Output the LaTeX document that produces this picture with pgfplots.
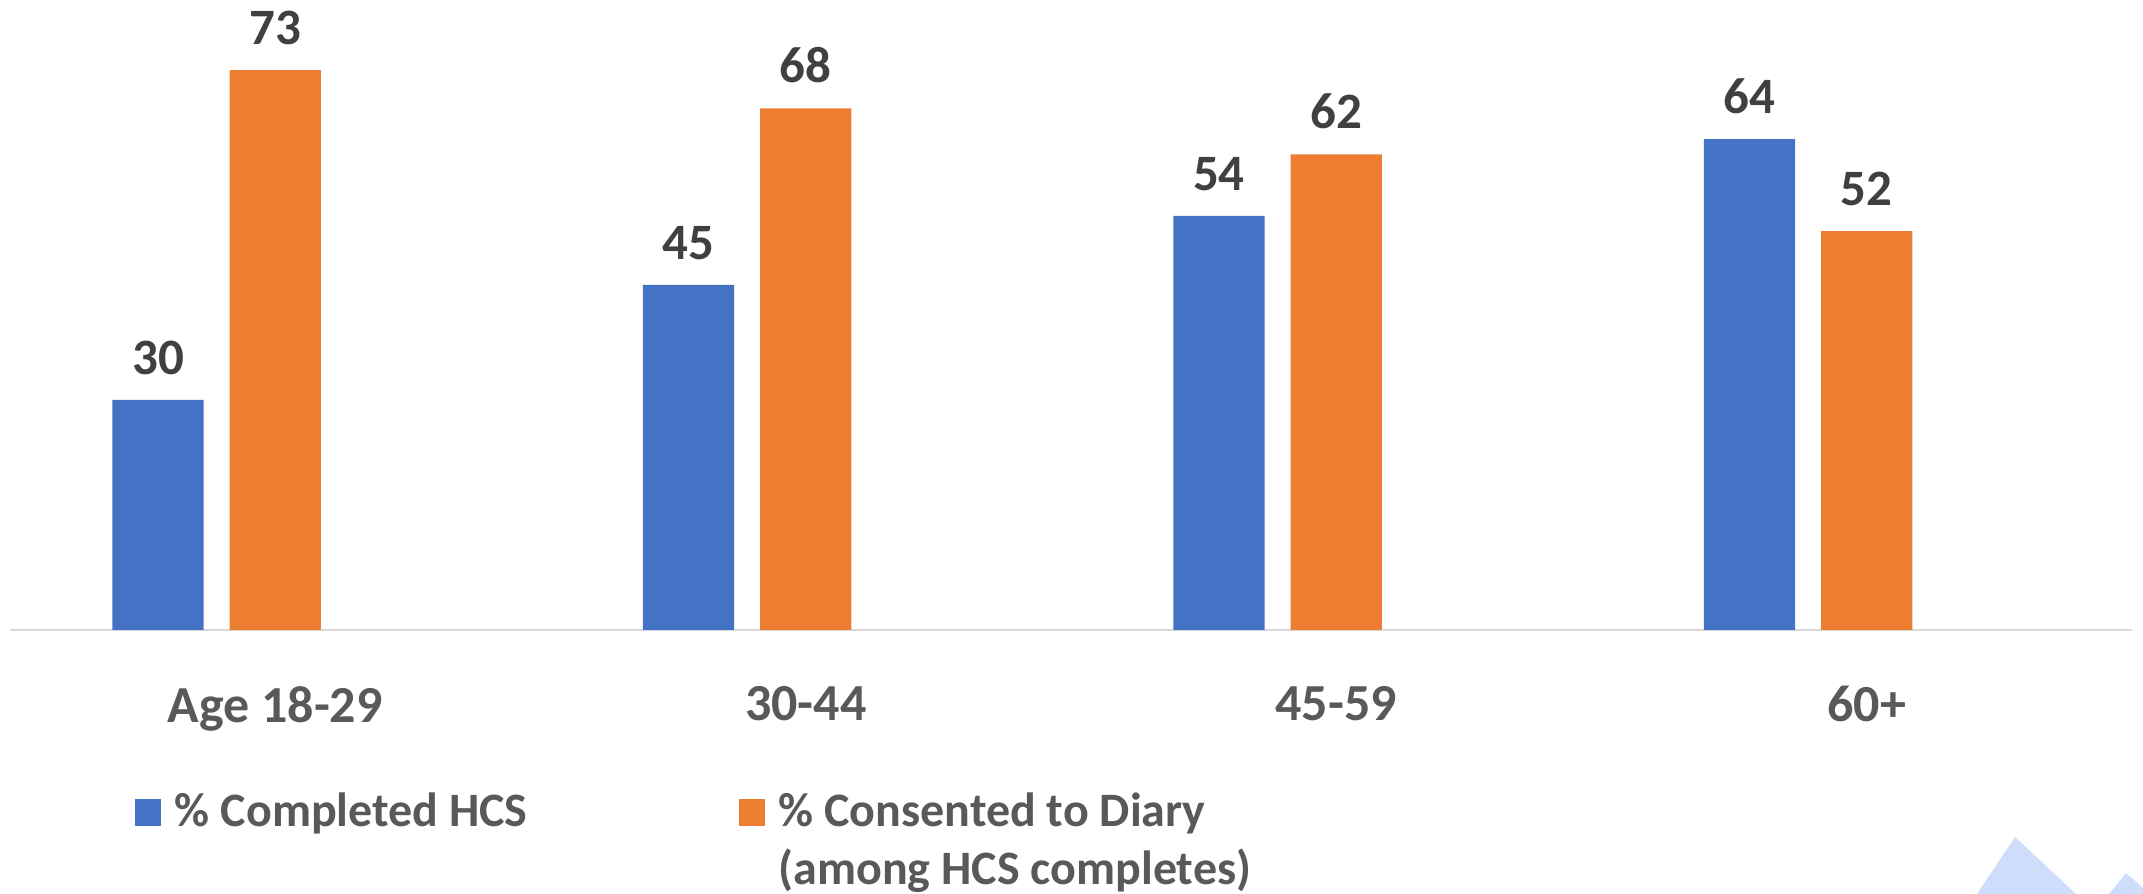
\documentclass[border=0pt]{standalone}
\usepackage{pgfplots}
\pgfplotsset{compat=1.18}
\usepackage{fontspec}
\setmainfont{Carlito}
\definecolor{hcsblue}{HTML}{4472C4}
\definecolor{diaryorange}{HTML}{ED7D31}
\definecolor{labelgray}{HTML}{595959}
\definecolor{valuegray}{HTML}{404040}
\definecolor{baselinegray}{HTML}{D9D9D9}
\definecolor{decoblue}{HTML}{CDDDFB}

\begin{document}
\begin{tikzpicture}
\useasboundingbox (0,0) rectangle (1071.5pt,447pt);
% slide decoration in the lower right corner
\begin{scope}
  \clip (0,0) rectangle (1071.5pt,447pt);
  \fill[decoblue] (988.5pt,0pt) -- (1007.5pt,28.5pt) -- (1038pt,0pt) -- cycle;
  \fill[decoblue] (1054.5pt,0pt) -- (1063pt,10.5pt) -- (1075pt,0pt) -- cycle;
\end{scope}
\begin{axis}[
  at={(5pt,132pt)}, anchor=south west,
  scale only axis, width=1061pt, height=306.8pt,
  xmin=-0.5, xmax=3.5, ymin=0, ymax=80,
  axis x line*=bottom, axis y line=none,
  x axis line style={draw=baselinegray, line width=1.4pt, -},
  xtick={0,1,2,3}, xticklabels={Age 18-29,30-44,45-59,60+},
  major tick length=0pt, xtick style={draw=none},
  xticklabel style={font=\bfseries\fontsize{26}{31}\selectfont, text=labelgray,
    anchor=north, inner sep=0pt, yshift=-28pt},
  ybar, bar width=0.172,
  /pgf/number format/assume math mode=true,
  nodes near coords={\pgfmathprintnumber{\pgfplotspointmeta}},
  nodes near coords style={font=\bfseries\fontsize{25.5}{31}\selectfont, text=valuegray,
    anchor=south, inner sep=0pt, yshift=12.5pt},
  clip=false,
  legend columns=2,
  legend cell align=left,
  legend image code/.code={\fill[#1] (0pt,0pt) rectangle (13pt,13.5pt);},
  legend style={at={(0.0589,-0.254)}, anchor=north west, draw=none, fill=none,
    inner sep=0pt, outer sep=0pt,
    font=\bfseries\fontsize{24}{29}\selectfont, text=labelgray,
    nodes={inner sep=0pt, anchor=base west},
    /tikz/every odd column/.append style={column sep=7pt},
    /tikz/every even column/.append style={column sep=105.5pt}},
]
\addplot[fill=hcsblue, draw=none, bar shift=-0.221]
  coordinates {(0,30) (1,45) (2,54) (3,64)};
\addlegendentry{\% Completed HCS}
\addplot[fill=diaryorange, draw=none, bar shift=0]
  coordinates {(0,73) (1,68) (2,62) (3,52)};
\addlegendentry{\begin{tabular}[t]{@{}l@{}}\% Consented to Diary\\(among HCS completes)\end{tabular}}
\end{axis}
\end{tikzpicture}
\end{document}
